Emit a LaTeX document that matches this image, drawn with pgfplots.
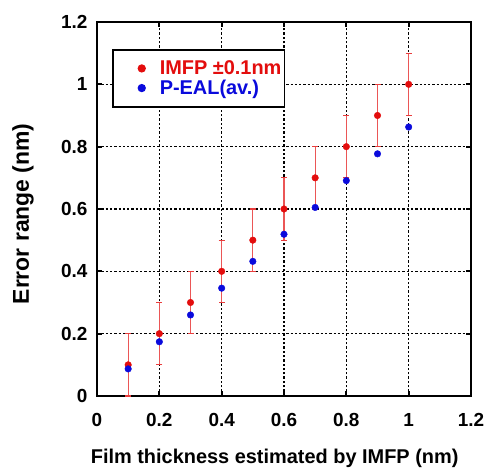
\documentclass[border=0pt]{standalone}
\usepackage{pgfplots}
\pgfplotsset{compat=1.18}
\usepackage{fontspec}
\setmainfont{Liberation Sans}
\definecolor{imfp}{HTML}{E30D0D}
\definecolor{peal}{HTML}{0A0ADC}
\begin{document}
\begin{tikzpicture}[x=1bp,y=1bp]
\path[use as bounding box] (-97,-72) rectangle (391,396);
\begin{axis}[
  at={(0,0)}, anchor=south west,
  scale only axis,
  width=374bp, height=374bp,
  xmin=0, xmax=1.2, ymin=0, ymax=1.2,
  xtick={0,0.2,...,1.2}, ytick={0,0.2,...,1.2},
  xticklabels={0,0.2,0.4,0.6,0.8,1,1.2},
  yticklabels={0,0.2,0.4,0.6,0.8,1,1.2},
  tick align=inside, major tick length=5bp,
  tick style={black, line width=2pt},
  axis line style={line width=2.2bp},
  grid=major,
  grid style={black, line width=1.6bp, dash pattern=on 2.3bp off 2bp},
  ticklabel style={font=\fontsize{19}{22}\selectfont\bfseries},
  xticklabel style={yshift=-14bp},
  yticklabel style={xshift=-6bp},
  xlabel={\fontsize{20}{24}\selectfont\bfseries Film thickness estimated by IMFP (nm)},
  ylabel={\fontsize{23}{27}\selectfont\bfseries Error range (nm)},
  xlabel style={at={(axis description cs:0.475,-0.166)}, anchor=center},
  ylabel style={at={(axis description cs:-0.198,0.487)}, anchor=center},
  legend style={at={(0.04,0.928)}, anchor=north west, draw=black, line width=1.6bp,
    font=\fontsize{20}{24}\selectfont\bfseries, inner xsep=1bp, inner ysep=9bp,
    row sep=0bp},
  legend cell align=left,
  legend image code/.code={\path[draw=none] (0,0) -- (44bp,0);
    \draw[#1, only marks] plot coordinates {(28bp,0)};},
]
\addplot[only marks, mark=*, mark size=3.3bp, imfp, mark options={draw=imfp, fill=imfp},
  error bars/.cd, y dir=both, y explicit,
  error bar style={imfp!70, line width=1.2bp},
  error mark options={rotate=90, mark size=3bp, imfp!80, line width=1.2bp}]
  table[x=x, y=y, y error=e] {
x y e
0.1 0.1 0.1
0.2 0.2 0.1
0.3 0.3 0.1
0.4 0.4 0.1
0.5 0.5 0.1
0.6 0.6 0.1
0.7 0.7 0.1
0.8 0.8 0.1
0.9 0.9 0.1
1.0 1.0 0.1
};
\addlegendentry{\textcolor{imfp}{IMFP ±0.1nm}}
\addplot[only marks, mark=*, mark size=3.3bp, peal, mark options={draw=peal, fill=peal}]
  coordinates {(0.1,0.087)(0.2,0.174)(0.3,0.260)(0.4,0.346)(0.5,0.432)
               (0.6,0.519)(0.7,0.605)(0.8,0.691)(0.9,0.777)(1.0,0.863)};
\addlegendentry{\textcolor{peal}{P-EAL(av.)}}
\end{axis}
\end{tikzpicture}
\end{document}
